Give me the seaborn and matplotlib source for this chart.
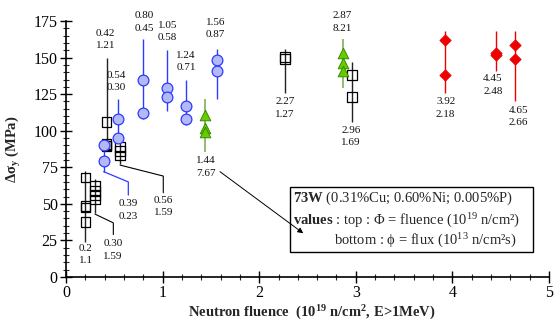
import matplotlib
matplotlib.use("Agg")
import matplotlib.pyplot as plt
from matplotlib.patches import Rectangle
from matplotlib.ticker import MultipleLocator
import seaborn as sns
import pandas as pd

# ---------------- data ----------------
# black open squares
sq_x = [0.2, 0.2, 0.2, 0.2, 0.30, 0.30, 0.30, 0.30, 0.42, 0.42, 0.42, 0.42,
        0.56, 0.56, 0.56, 2.27, 2.27, 2.96, 2.96]
sq_y = [68, 48.5, 47.5, 37.5, 62, 59, 56, 53, 106, 91, 90, 89.5,
        89, 86, 83, 149, 150.5, 138, 123]
# blue circles
ci_x = [0.39, 0.39, 0.54, 0.54, 0.80, 0.80, 1.05, 1.05, 1.24, 1.24, 1.56, 1.56]
ci_y = [90, 79.5, 108, 95, 135, 112, 129.5, 123, 117, 108, 148, 141]
# green triangles
tr_x = [1.44, 1.44, 1.44, 2.87, 2.87, 2.87]
tr_y = [110.5, 102, 99, 153, 146.5, 141]
# red diamonds
di_x = [3.92, 3.92, 4.45, 4.45, 4.65, 4.65]
di_y = [162, 138, 153, 151.5, 158.5, 149]

# vertical scatter ranges
sq_bar_x = [0.2, 0.30, 0.42, 0.56, 2.27, 2.96]
sq_bar_lo = [24, 44, 88, 77, 125.5, 106]
sq_bar_hi = [72.5, 67, 150, 92, 156, 147]
ci_bar_x = [0.39, 0.54, 0.80, 1.05, 1.24, 1.56]
ci_bar_lo = [72, 92, 108, 113.5, 104, 122]
ci_bar_hi = [94, 122, 162.5, 155, 134.5, 156]
tr_bar_x = [1.44, 2.87]
tr_bar_lo = [85.5, 129.5]
tr_bar_hi = [121.5, 162.5]
di_bar_x = [3.92, 4.45, 4.65]
di_bar_lo = [125.5, 141, 120]
di_bar_hi = [168.5, 168.5, 168.5]

# labels: fluence (top) / flux (bottom)
lab_top = ["0.42", "0.54", "0.80", "1.05", "1.24", "1.56", "2.27", "2.87",
           "2.96", "3.92", "4.45", "4.65", "1.44", "0.39", "0.56", "0.30", "0.2"]
lab_bot = ["1.21", "0.30", "0.45", "0.58", "0.71", "0.87", "1.27", "8.21",
           "1.69", "2.18", "2.48", "2.66", "7.67", "0.23", "1.59", "1.59", "1.1"]
lab_x = [0.41, 0.525, 0.807, 1.053, 1.242, 1.55, 2.267, 2.864,
         2.95, 3.93, 4.42, 4.68, 1.45, 0.645, 1.007, 0.487, 0.207]
lab_y = [162.4, 133.6, 174.3, 167.8, 147.1, 169.7, 115.5, 174.3,
         96.2, 115.5, 131.2, 109.6, 75.2, 45.8, 48.3, 18.5, 15.4]

# leader lines
lead_blue_x = [0.39, 0.645, 0.645]
lead_blue_y = [72, 65, 56]
lead_056_x = [0.56, 1.007, 1.007]
lead_056_y = [76.5, 69, 57.6]
lead_030_x = [0.30, 0.49, 0.49]
lead_030_y = [43, 37, 29]

# ---------------- style ----------------
sns.set_theme(style="ticks")
plt.rcParams["font.family"] = ["Liberation Serif", "DejaVu Serif"]
plt.rcParams["mathtext.fontset"] = "custom"
plt.rcParams["mathtext.rm"] = "Liberation Serif"
plt.rcParams["mathtext.it"] = "Liberation Serif:italic"
plt.rcParams["mathtext.bf"] = "Liberation Serif:bold"

fig = plt.figure(figsize=(5.54, 3.24), dpi=100)
ax = fig.add_axes([66 / 554, 47 / 324, 483 / 554, 256 / 324])

BLUE = "#2a3cff"
BLUE_FILL = "#b4b8f4"
GREEN_LINE = "#7db35a"
GREEN_FILL = "#66cc00"
GREEN_EDGE = "#3a8a00"
RED = "#ee0000"

ax.vlines(sq_bar_x, sq_bar_lo, sq_bar_hi, color="#222222", lw=1.0, zorder=1)
ax.vlines(ci_bar_x, ci_bar_lo, ci_bar_hi, color=BLUE, lw=1.0, zorder=1)
ax.vlines(tr_bar_x, tr_bar_lo, tr_bar_hi, color=GREEN_LINE, lw=1.2, zorder=1)
ax.vlines(di_bar_x, di_bar_lo, di_bar_hi, color=RED, lw=1.0, zorder=1)

ax.plot(lead_blue_x, lead_blue_y, color=BLUE, lw=0.9, zorder=1)
ax.plot(lead_056_x, lead_056_y, color="black", lw=0.8, zorder=1)
ax.plot(lead_030_x, lead_030_y, color="black", lw=0.8, zorder=1)

sns.scatterplot(x=sq_x, y=sq_y, marker="s", s=48, color="black",
                facecolor="none", edgecolor="black", linewidth=0.9, ax=ax, zorder=3)
sns.scatterplot(x=ci_x, y=ci_y, marker="o", s=60, color=BLUE,
                facecolor=BLUE_FILL, edgecolor=BLUE, linewidth=0.9, ax=ax, zorder=3)
sns.scatterplot(x=tr_x, y=tr_y, marker="^", s=58, color=GREEN_FILL,
                facecolor=GREEN_FILL, edgecolor=GREEN_EDGE, linewidth=0.7, ax=ax, zorder=3)
sns.scatterplot(x=di_x, y=di_y, marker="D", s=32, color=RED,
                facecolor=RED, edgecolor=RED, linewidth=0.7, ax=ax, zorder=3)

for t, b, x, y in zip(lab_top, lab_bot, lab_x, lab_y):
    ax.text(x, y, f"{t}\n{b}", ha="center", va="center", fontsize=8,
            linespacing=1.45, color="#111111")

ax.annotate("", xy=(2.456, 29.9), xytext=(1.594, 72),
            arrowprops=dict(arrowstyle="-|>", color="black", lw=0.7,
                            mutation_scale=8, shrinkA=0, shrinkB=0))

ax.add_patch(Rectangle((2.319, 17.3), 4.83 - 2.319, 61.3 - 17.3, fill=False,
                       lw=1.0, edgecolor="black", zorder=4))
ax.text(2.347, 53.8, r"$\mathbf{73W}$ (0.31%Cu; 0.60%Ni; 0.005%P)",
        ha="left", va="center", fontsize=10.5)
ax.text(2.347, 38.5, r"$\mathbf{values}$ : top : Φ = fluence (10$^{19}$ n/cm²)",
        ha="left", va="center", fontsize=10.5)
ax.text(2.777, 24.8, r"bottom : ϕ = flux (10$^{13}$ n/cm²s)",
        ha="left", va="center", fontsize=10.5)

ax.set_xlim(0, 5)
ax.set_ylim(0, 175)
ax.xaxis.set_major_locator(MultipleLocator(1))
ax.xaxis.set_minor_locator(MultipleLocator(0.2))
ax.yaxis.set_major_locator(MultipleLocator(25))
ax.yaxis.set_minor_locator(MultipleLocator(5))
ax.tick_params(which="major", direction="inout", length=8, width=1.0,
               labelsize=11.5, colors="black", pad=2)
ax.tick_params(which="minor", direction="inout", length=5, width=0.8)
for s in ["top", "right"]:
    ax.spines[s].set_visible(False)
for s in ["left", "bottom"]:
    ax.spines[s].set_linewidth(1.2)
    ax.spines[s].set_color("black")

ax.set_xlabel(r"Neutron fluence  (10$^{\mathbf{19}}$ n/cm$^{\mathbf{2}}$, E>1MeV)",
              fontsize=10.5, fontweight="bold")
ax.set_ylabel(r"$\mathbf{\Delta\sigma_y}$ (MPa)", fontsize=10.5, fontweight="bold")
ax.xaxis.set_label_coords(0.51, -0.105)
ax.yaxis.set_label_coords(-0.09, 0.5)

fig.savefig("out.png", dpi=100)
